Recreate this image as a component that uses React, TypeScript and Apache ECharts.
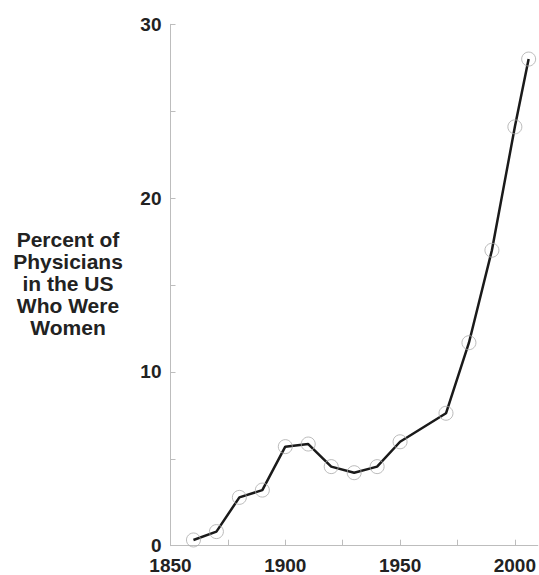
import React, { useEffect, useRef } from "react";
import * as echarts from "echarts";

const years = [1860, 1870, 1880, 1890, 1900, 1910, 1920, 1930, 1940, 1950, 1970, 1980, 1990, 2000, 2006];
const percentWomen = [0.33, 0.81, 2.78, 3.2, 5.7, 5.85, 4.55, 4.2, 4.55, 5.98, 7.62, 11.68, 17.0, 24.1, 28.0];
const xTicks = [1850, 1875, 1900, 1925, 1950, 1975, 2000];
const xLabels = [1850, 1900, 1950, 2000];
const yTicks = [0, 5, 10, 15, 20, 25, 30];
const yLabels = [0, 10, 20, 30];
const titleLines = ["Percent of", "Physicians", "in the US", "Who Were", "Women"];

export default function App() {
  const ref = useRef<HTMLDivElement>(null);
  useEffect(() => {
    document.body.style.margin = "0";
    const chart = echarts.init(ref.current!, null, { renderer: "svg" });
    const pts = years.map((y, i) => [y, percentWomen[i]]);
    const axisColor = "#bdbdbd";
    const labelStyle = {
      fontFamily: "Liberation Sans, Arial, sans-serif",
      fontWeight: "bold" as const,
      fontSize: 19,
      color: "#222",
    };
    chart.setOption({
      animation: false,
      backgroundColor: "#fff",
      grid: { left: 170.5, right: 0, top: 24.3, bottom: 29.3 },
      xAxis: {
        type: "value",
        min: 1850,
        max: 2010,
        splitLine: { show: false },
        axisLine: { lineStyle: { color: axisColor, width: 1 } },
        axisTick: { inside: true, length: 6, lineStyle: { color: axisColor }, customValues: xTicks },
        axisLabel: {
          ...labelStyle,
          margin: 10.5,
          lineHeight: 18,
          customValues: xLabels,
          hideOverlap: false,
          formatter: (v: number) => String(v),
        },
      },
      yAxis: {
        type: "value",
        min: 0,
        max: 30,
        splitLine: { show: false },
        axisLine: { show: true, lineStyle: { color: axisColor, width: 1 } },
        axisTick: { show: true, inside: true, length: 5, lineStyle: { color: axisColor }, customValues: yTicks },
        axisLabel: {
          ...labelStyle,
          margin: 9,
          lineHeight: 15,
          customValues: yLabels,
          formatter: (v: number) => String(v),
        },
      },
      graphic: [
        {
          type: "text",
          x: 68,
          y: 228,
          style: {
            text: titleLines.join("\n"),
            fontFamily: "Liberation Sans, Arial, sans-serif",
            fontWeight: "bold",
            fontSize: 21,
            lineHeight: 22,
            fill: "#222",
            align: "center",
            verticalAlign: "top",
          },
        },
      ],
      series: [
        {
          type: "line",
          data: pts,
          showSymbol: false,
          symbol: "none",
          lineStyle: { color: "#1a1a1a", width: 2.5 },
          z: 2,
        },
        {
          type: "scatter",
          data: pts,
          symbol: "circle",
          symbolSize: 14,
          itemStyle: { color: "rgba(0,0,0,0)", borderColor: "#aaaaaa", borderWidth: 1 },
          z: 3,
        },
      ],
    });
    return () => chart.dispose();
  }, []);
  return <div ref={ref} style={{ width: 539, height: 575 }} />;
}
